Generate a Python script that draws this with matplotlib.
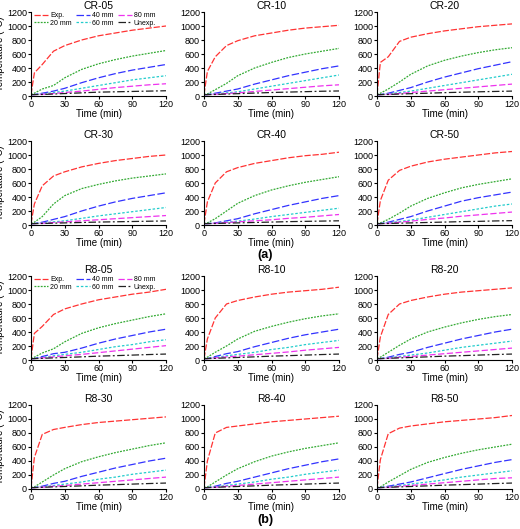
import matplotlib
matplotlib.use("Agg")
import matplotlib.pyplot as plt

time = [0, 3, 10, 20, 30, 45, 60, 75, 90, 105, 120]
titles = ["CR-05", "CR-10", "CR-20", "CR-30", "CR-40", "CR-50",
          "R8-05", "R8-10", "R8-20", "R8-30", "R8-40", "R8-50"]

exp_T = [
    [20, 330, 450, 640, 720, 800, 860, 900, 940, 970, 1000],
    [20, 350, 560, 720, 790, 860, 900, 940, 970, 990, 1010],
    [20, 480, 560, 780, 840, 890, 930, 960, 990, 1010, 1030],
    [20, 300, 560, 700, 760, 830, 880, 920, 950, 980, 1000],
    [20, 330, 600, 760, 820, 880, 920, 960, 990, 1010, 1040],
    [20, 350, 640, 780, 840, 900, 940, 970, 1000, 1030, 1050],
    [20, 380, 480, 650, 730, 800, 860, 900, 940, 970, 1010],
    [20, 300, 600, 800, 850, 900, 940, 970, 990, 1010, 1040],
    [20, 330, 650, 800, 850, 900, 940, 970, 990, 1010, 1030],
    [20, 450, 780, 850, 880, 920, 950, 970, 990, 1010, 1030],
    [20, 400, 800, 880, 900, 930, 960, 980, 1000, 1020, 1040],
    [20, 420, 790, 870, 900, 930, 960, 980, 1000, 1020, 1050],
]
mm20 = [
    [20, 40, 100, 150, 260, 380, 460, 520, 570, 610, 650],
    [20, 30, 90, 180, 290, 400, 480, 550, 600, 640, 680],
    [20, 40, 100, 200, 310, 430, 510, 570, 620, 660, 690],
    [20, 40, 120, 300, 420, 520, 580, 630, 670, 700, 730],
    [20, 30, 90, 200, 310, 420, 500, 560, 610, 650, 690],
    [20, 30, 80, 170, 270, 380, 460, 530, 580, 620, 660],
    [20, 40, 100, 160, 260, 380, 460, 520, 570, 620, 660],
    [20, 40, 110, 200, 300, 410, 480, 540, 590, 630, 660],
    [20, 40, 110, 210, 300, 400, 470, 530, 580, 620, 650],
    [20, 30, 100, 200, 290, 390, 460, 520, 570, 620, 660],
    [20, 30, 100, 200, 290, 390, 470, 530, 580, 620, 660],
    [20, 30, 100, 190, 280, 380, 450, 510, 560, 600, 640],
]
mm40 = [
    [20, 20, 40, 70, 110, 190, 260, 320, 370, 410, 450],
    [20, 20, 40, 70, 100, 170, 230, 290, 340, 390, 430],
    [20, 20, 40, 80, 120, 200, 270, 330, 390, 440, 490],
    [20, 20, 40, 80, 120, 200, 270, 330, 380, 420, 460],
    [20, 20, 30, 60, 90, 160, 220, 280, 330, 380, 420],
    [20, 20, 40, 80, 120, 200, 270, 340, 390, 430, 470],
    [20, 20, 50, 90, 110, 170, 240, 300, 350, 400, 440],
    [20, 20, 50, 90, 120, 190, 250, 310, 360, 400, 440],
    [20, 20, 40, 80, 110, 180, 240, 300, 350, 400, 440],
    [20, 20, 40, 80, 110, 180, 240, 300, 350, 400, 440],
    [20, 20, 40, 80, 110, 170, 230, 290, 340, 390, 430],
    [20, 20, 40, 70, 100, 160, 220, 280, 330, 380, 420],
]
mm60 = [
    [20, 20, 30, 50, 70, 110, 150, 190, 230, 260, 290],
    [20, 20, 30, 45, 60, 100, 140, 180, 220, 260, 300],
    [20, 20, 30, 50, 70, 110, 150, 190, 230, 270, 310],
    [20, 20, 30, 45, 60, 95, 130, 160, 190, 220, 250],
    [20, 20, 25, 40, 55, 85, 120, 150, 180, 210, 240],
    [20, 20, 30, 50, 70, 110, 150, 190, 230, 270, 300],
    [20, 20, 35, 60, 80, 110, 150, 190, 220, 260, 290],
    [20, 20, 35, 60, 80, 110, 150, 180, 220, 250, 280],
    [20, 20, 30, 50, 70, 100, 140, 180, 210, 240, 270],
    [20, 20, 30, 50, 70, 100, 140, 170, 210, 240, 270],
    [20, 20, 30, 50, 70, 100, 140, 170, 210, 240, 270],
    [20, 20, 30, 50, 70, 100, 130, 170, 200, 230, 260],
]
mm80 = [
    [20, 20, 25, 35, 50, 70, 95, 120, 140, 160, 175],
    [20, 20, 25, 35, 45, 65, 85, 105, 125, 145, 160],
    [20, 20, 25, 35, 50, 70, 90, 110, 130, 150, 170],
    [20, 20, 25, 35, 45, 60, 75, 90, 105, 120, 135],
    [20, 20, 25, 35, 45, 60, 75, 95, 110, 130, 150],
    [20, 20, 25, 40, 55, 80, 100, 125, 145, 165, 185],
    [20, 20, 30, 45, 60, 80, 105, 130, 155, 180, 205],
    [20, 20, 30, 45, 55, 75, 95, 115, 140, 160, 180],
    [20, 20, 25, 40, 50, 70, 90, 110, 130, 150, 170],
    [20, 20, 25, 40, 50, 70, 90, 110, 130, 150, 170],
    [20, 20, 25, 40, 50, 70, 90, 110, 130, 150, 170],
    [20, 20, 25, 40, 50, 70, 90, 110, 130, 150, 160],
]
unexp = [
    [20, 20, 22, 28, 35, 45, 55, 60, 65, 70, 75],
    [20, 20, 22, 28, 33, 42, 50, 56, 62, 68, 72],
    [20, 20, 22, 28, 33, 40, 48, 54, 60, 65, 70],
    [20, 20, 22, 26, 30, 36, 42, 46, 50, 54, 58],
    [20, 20, 22, 26, 30, 36, 42, 48, 52, 56, 60],
    [20, 20, 22, 26, 30, 36, 42, 48, 52, 58, 62],
    [20, 20, 24, 30, 36, 45, 55, 62, 70, 78, 85],
    [20, 20, 24, 30, 36, 45, 55, 62, 70, 78, 85],
    [20, 20, 24, 30, 36, 45, 55, 62, 70, 78, 85],
    [20, 20, 24, 30, 36, 45, 55, 62, 70, 78, 85],
    [20, 20, 24, 30, 36, 45, 55, 62, 70, 78, 85],
    [20, 20, 24, 30, 36, 45, 55, 62, 70, 78, 85],
]

series = [
    ("Exp.", exp_T, "#ff3333", (0, (5, 1.5))),
    ("20 mm", mm20, "#33aa33", (0, (1.5, 1))),
    ("40 mm", mm40, "#3333ff", (0, (6, 2))),
    ("60 mm", mm60, "#22cccc", (0, (2, 1.5))),
    ("80 mm", mm80, "#ee33ee", (0, (5, 2))),
    ("Unexp.", unexp, "#222222", (0, (6, 2, 1.5, 2))),
]

plt.rcParams["font.family"] = ["Liberation Sans", "DejaVu Sans"]
W, H = 520, 529
fig = plt.figure(figsize=(W / 100, H / 100), dpi=100)

col_x = [31, 204, 377]
row_top = [12, 141, 276, 405]
aw, ah = 135, 84

for i, name in enumerate(titles):
    r, c = divmod(i, 3)
    ax = fig.add_axes([col_x[c] / W, 1 - (row_top[r] + ah) / H, aw / W, ah / H])
    for lab, data, col, ls in series:
        ax.plot(time, data[i], color=col, ls=ls, lw=0.9, label=lab)
    ax.set_xlim(0, 120)
    ax.set_ylim(0, 1200)
    ax.set_xticks([0, 30, 60, 90, 120])
    ax.set_yticks(range(0, 1201, 200))
    ax.tick_params(labelsize=6.5, length=2, pad=1)
    ax.set_title(name, fontsize=7.5, pad=2)
    ax.set_xlabel("Time (min)", fontsize=7, labelpad=0)
    if c == 0:
        ax.set_ylabel("Temperature (°C)", fontsize=7, labelpad=1)
    for s in ["top", "right"]:
        ax.spines[s].set_visible(False)
    if i in (0, 6):
        ax.legend(ncol=3, fontsize=5, frameon=False, loc="upper left",
                  bbox_to_anchor=(0.0, 1.04), handlelength=2.0,
                  columnspacing=0.6, handletextpad=0.3, labelspacing=0.1,
                  borderaxespad=0.1)

fig.text(265 / W, 1 - 255 / H, "(a)", ha="center", va="center",
         fontsize=9, fontweight="bold")
fig.text(265 / W, 1 - 520 / H, "(b)", ha="center", va="center",
         fontsize=9, fontweight="bold")

fig.savefig("out.png", dpi=100)
